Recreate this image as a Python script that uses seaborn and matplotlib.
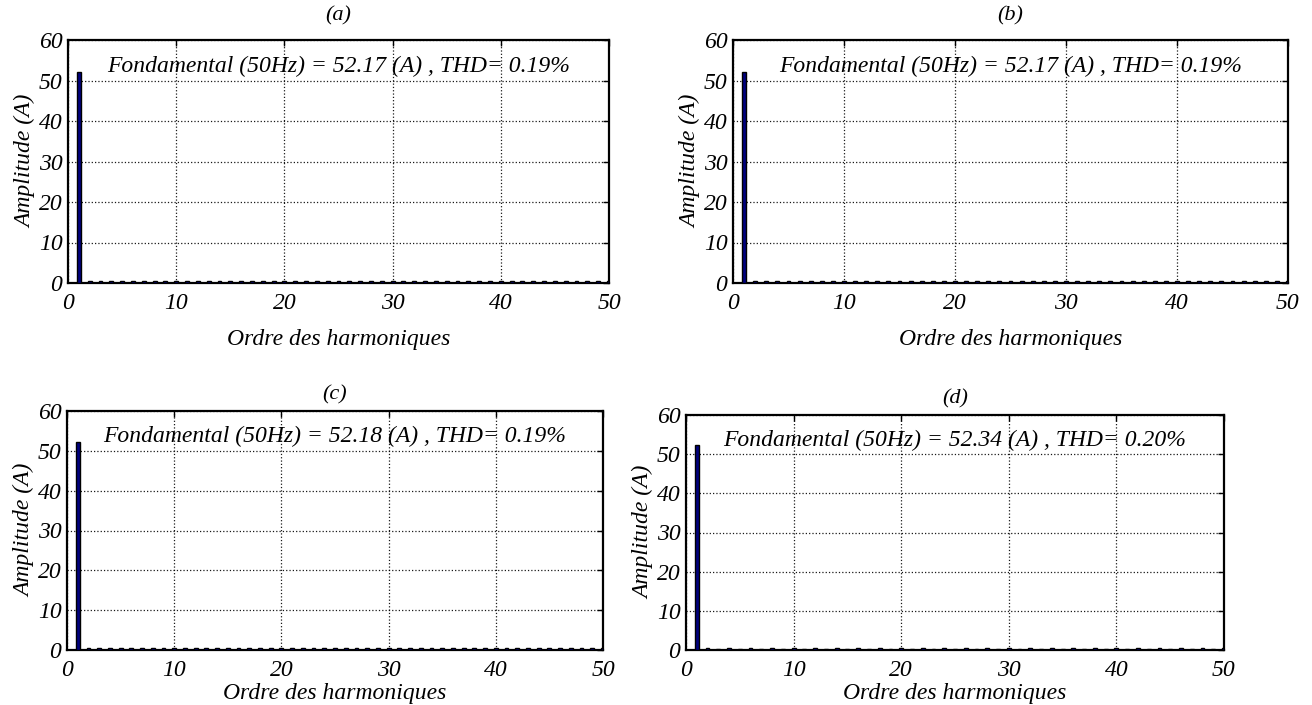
import matplotlib
matplotlib.use("Agg")
import matplotlib.pyplot as plt
import seaborn as sns
import pandas as pd

# ---- data ----
panels = ["(a)", "(b)", "(c)", "(d)"]
fundamental = [52.17, 52.17, 52.18, 52.34]
thd = [0.19, 0.19, 0.19, 0.20]
harmonic_orders = list(range(1, 51))
# tiny harmonic amplitudes (orders 2..50), seen as dashes on the baseline
small_harmonics = [0.40, 0.38, 0.40, 0.38, 0.40, 0.38, 0.40, 0.38, 0.40, 0.38,
                   0.40, 0.38, 0.40, 0.38, 0.40, 0.38, 0.40, 0.38, 0.40, 0.38,
                   0.40, 0.38, 0.40, 0.38, 0.40, 0.38, 0.40, 0.38, 0.40, 0.38,
                   0.40, 0.38, 0.40, 0.38, 0.40, 0.38, 0.40, 0.38, 0.40, 0.38,
                   0.40, 0.38, 0.40, 0.38, 0.40, 0.38, 0.40, 0.38, 0.40]
x_ticks = [0, 10, 20, 30, 40, 50]
y_ticks = [0, 10, 20, 30, 40, 50, 60]
xlabel = "Ordre des harmoniques"
ylabel = "Amplitude (A)"

sns.set_theme(style="white")
plt.rcParams["font.family"] = ["Liberation Serif", "DejaVu Serif"]
plt.rcParams["font.style"] = "italic"
plt.rcParams["text.color"] = "black"
plt.rcParams["axes.labelcolor"] = "black"
plt.rcParams["xtick.color"] = "black"
plt.rcParams["ytick.color"] = "black"

W, H = 1312, 705
fig = plt.figure(figsize=(W / 100, H / 100), dpi=100)
fig.patch.set_facecolor("white")

# axes boxes in pixels: left, right, top, bottom
boxes = [(68, 609, 40, 283), (733, 1288, 40, 283),
         (67, 603, 411, 650), (686, 1224, 415, 650)]
xlabel_pads = [11, 11, 1.5, 1.5]
title_pads = [14, 14, 8, 8]

for i, (l, r, t, b) in enumerate(boxes):
    ax = fig.add_axes([l / W, (H - b) / H, (r - l) / W, (b - t) / H])
    amps = [fundamental[i]] + small_harmonics
    df = pd.DataFrame({"h": harmonic_orders, "amp": amps})
    sns.barplot(data=df, x="h", y="amp", native_scale=True, width=0.36,
                color="#000080", saturation=1, edgecolor="black",
                linewidth=1.0, ax=ax, zorder=3)
    ax.set_xlim(0, 50)
    ax.set_ylim(0, 60)
    ax.set_xticks(x_ticks)
    ax.set_yticks(y_ticks)
    ax.set_xticklabels([str(v) for v in x_ticks], fontsize=17, style="italic", color="black")
    ax.set_yticklabels([str(v) for v in y_ticks], fontsize=17, style="italic", color="black")
    ax.grid(True, linestyle=":", color="black", linewidth=0.9, alpha=0.9)
    ax.set_axisbelow(True)
    ax.tick_params(direction="in", length=4, width=1, top=True, right=True,
                   colors="black")
    ax.tick_params(axis="x", pad=7)
    ax.tick_params(axis="y", pad=4)
    for s in ax.spines.values():
        s.set_visible(True)
        s.set_color("black")
        s.set_linewidth(1.6)
    ax.set_xlabel(xlabel, fontsize=17, style="italic", labelpad=xlabel_pads[i], color="black")
    ax.set_ylabel(ylabel, fontsize=17, style="italic", labelpad=2, color="black")
    ax.set_title(panels[i], fontsize=16, style="italic", pad=title_pads[i], color="black")
    ax.text(25, 53.5, f"Fondamental (50Hz) = {fundamental[i]:.2f} (A) , THD= {thd[i]:.2f}%",
            ha="center", va="center", fontsize=17, style="italic", zorder=5, color="black")

fig.savefig("out.png", dpi=100, facecolor="white")
